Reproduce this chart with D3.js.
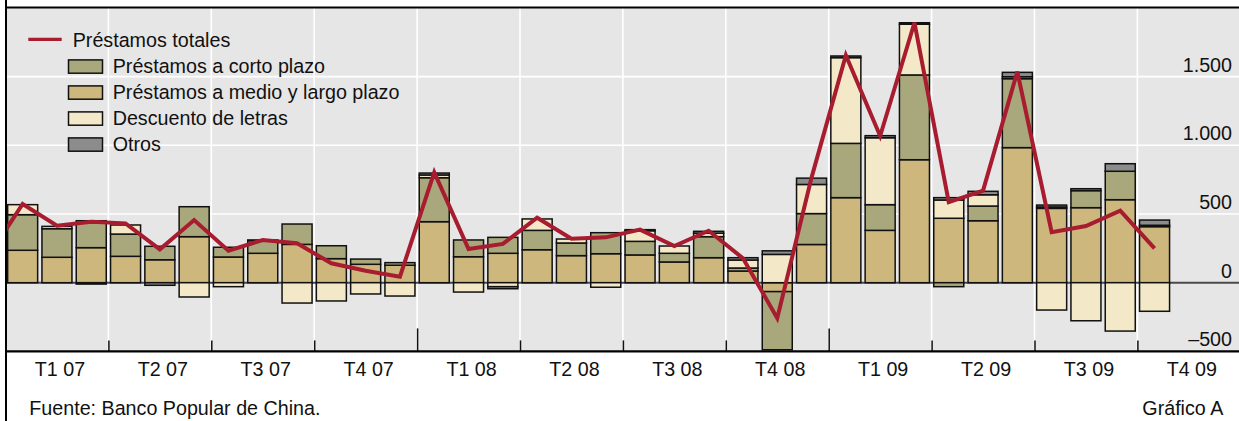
<!DOCTYPE html>
<html><head><meta charset="utf-8">
<script src="https://cdn.jsdelivr.net/npm/d3@7"></script>
<style>
html,body{margin:0;padding:0;background:#fff;}
svg{display:block;}
text{font-family:"Liberation Sans",Arial,Helvetica,sans-serif;font-size:19.7px;fill:#111;}
</style></head><body>
<svg id="chart" width="1239" height="421"></svg>
<script>
// ---- data (miles de millones) ----
const months = ["2007-01","2007-02","2007-03","2007-04","2007-05","2007-06","2007-07","2007-08","2007-09","2007-10","2007-11","2007-12",
  "2008-01","2008-02","2008-03","2008-04","2008-05","2008-06","2008-07","2008-08","2008-09","2008-10","2008-11","2008-12",
  "2009-01","2009-02","2009-03","2009-04","2009-05","2009-06","2009-07","2009-08","2009-09","2009-10","2009-11","2009-12"];
const quarters = ["T1 07","T2 07","T3 07","T4 07","T1 08","T2 08","T3 08","T4 08","T1 09","T2 09","T3 09","T4 09"];
// components Jan 07 - Oct 09
const medio = [236,185,255,192,167,335,187,214,279,175,134,127,
  444,189,214,240,197,211,202,151,182,85,-65,278,
  619,381,895,469,451,983,541,546,604,408];
const corto = [259,208,196,162,98,218,71,92,148,94,38,19,
  320,122,116,141,92,153,99,63,153,22,-423,225,
  395,187,617,-29,107,502,10,124,207,10];
const descuento = [73,17,0,66,0,-104,-29,0,-148,-133,-82,-97,
  20,-68,-29,83,29,-33,77,53,25,58,206,212,
  624,487,369,133,82,14,-199,-277,-352,-208];
const otros = [0,0,-10,0,-19,0,0,5,0,0,0,0,
  14,0,-15,0,0,0,8,0,14,17,26,46,
  12,15,11,17,25,32,14,14,55,38];
// total line: Dec 06 then Jan 07 - Oct 09
const totalPrev = 190;
const totales = [573,415,444,432,243,456,233,311,287,141,87,44,
  803,245,282,473,320,330,386,267,378,178,-258,765,
  1655,1068,1892,587,670,1536,367,413,524,250];
const yTicks = [-500,0,500,1000,1500];
const yGrid = [500,1000,1500];
const seriesKeys = ["medio","corto","descuento","otros"];
const legendLabels = ["Préstamos totales","Préstamos a corto plazo","Préstamos a medio y largo plazo","Descuento de letras","Otros"];
const legendKeys = ["corto","medio","descuento","otros"];
const sourceText = "Fuente: Banco Popular de China.";
const chartId = "Gráfico A";

// ---- styles ----
const colors = {medio:"#cdb77d", corto:"#a8a87c", descuento:"#f3e9c8", otros:"#8c8c8c"};
const lineColor = "#a81c30";
const bg = "#e6e6e6";

// ---- layout ----
const W = 1239, H = 421;
const plot = {left:6, right:1239, top:7.9, bottom:351.4};
const timeRange = [5.5, 1240.3];

const svg = d3.select("#chart");

const x = d3.scaleBand().domain(months).range(timeRange).paddingInner(0.125).paddingOuter(0.0625);
const xq = d3.scaleBand().domain(quarters).range(timeRange);
const xb = d3.scaleLinear().domain([0, months.length]).range(timeRange);
const y = d3.scaleLinear().domain([-500, 2000]).range([plot.bottom, plot.top]);

const locale = d3.formatLocale({decimal:",", thousands:".", grouping:[3], currency:["",""], minus:"\u2013"});
const fmt = locale.format(",d");

// background
svg.append("rect").attr("x",0).attr("y",0).attr("width",W).attr("height",H).attr("fill","#fff");
svg.append("rect").attr("x",plot.left).attr("y",plot.top).attr("width",plot.right-plot.left).attr("height",plot.bottom-plot.top).attr("fill",bg);

svg.append("defs").append("clipPath").attr("id","clip").append("rect")
  .attr("x",plot.left).attr("y",plot.top).attr("width",plot.right-plot.left).attr("height",plot.bottom-plot.top);
const g = svg.append("g").attr("clip-path","url(#clip)");

// grid
g.selectAll(".hgrid").data(yGrid).join("line")
  .attr("x1",plot.left).attr("x2",plot.right).attr("y1",d=>y(d)).attr("y2",d=>y(d))
  .attr("stroke","#fff").attr("stroke-width",1.6);
const qBounds = d3.range(3, months.length, 3);
g.selectAll(".vgrid").data(qBounds).join("line")
  .attr("x1",d=>xb(d)).attr("x2",d=>xb(d)).attr("y1",plot.top).attr("y2",plot.bottom)
  .attr("stroke","#fff").attr("stroke-width",1.6);

// zero line
g.append("line").attr("x1",plot.left).attr("x2",plot.right).attr("y1",y(0)).attr("y2",y(0))
  .attr("stroke","#4a4a4a").attr("stroke-width",2);

// stacked bars
const rows = totales.map((t,i)=>({month:months[i], medio:medio[i], corto:corto[i], descuento:descuento[i], otros:otros[i]}));
const stack = d3.stack().keys(seriesKeys).offset(d3.stackOffsetDiverging);
const stacked = stack(rows);
const layers = g.selectAll(".layer").data(stacked).join("g").attr("fill",d=>colors[d.key]);
layers.selectAll("rect").data(d=>d.filter(s=>s[1]!==s[0])).join("rect")
  .attr("x",d=>x(d.data.month)).attr("width",x.bandwidth())
  .attr("y",d=>y(Math.max(d[0],d[1]))).attr("height",d=>Math.abs(y(d[0])-y(d[1])))
  .attr("stroke","#111").attr("stroke-width",1.5);

// total line (starts with Dec 06, clipped)
const linePts = [{pos: x(months[0]) + x.bandwidth()/2 - x.step(), v: totalPrev}]
  .concat(totales.map((v,i)=>({pos: x(months[i]) + x.bandwidth()/2, v})));
g.append("path").datum(linePts)
  .attr("d", d3.line().x(d=>d.pos).y(d=>y(d.v)))
  .attr("fill","none").attr("stroke",lineColor).attr("stroke-width",4).attr("stroke-linejoin","miter");

// bottom ticks
const tickAxis = d3.axisTop(xb).tickValues(qBounds).tickSize(11).tickFormat("");
const gt = svg.append("g").attr("transform",`translate(0,${plot.bottom})`).call(tickAxis);
gt.select(".domain").remove();
gt.selectAll(".tick line").attr("stroke","#111").attr("stroke-width",1.5)
  .attr("y2", d => d % 12 === 0 ? -23 : -11);

// frame
svg.append("line").attr("x1",5).attr("x2",W).attr("y1",7.5).attr("y2",7.5).attr("stroke","#000").attr("stroke-width",2);
svg.append("line").attr("x1",5).attr("x2",W).attr("y1",plot.bottom).attr("y2",plot.bottom).attr("stroke","#000").attr("stroke-width",2.2);
svg.append("line").attr("x1",6).attr("x2",6).attr("y1",0).attr("y2",H).attr("stroke","#000").attr("stroke-width",2);

// y axis labels
const yAxis = d3.axisRight(y).tickValues(yTicks).tickSize(0).tickPadding(0).tickFormat(fmt);
const gy = svg.append("g").attr("transform","translate(1232,0)").call(yAxis);
gy.select(".domain").remove();
gy.selectAll("text").attr("text-anchor","end").attr("x",0).attr("dy",null).attr("y",-5.5);

// x axis labels
const xAxis = d3.axisBottom(xq).tickSize(0).tickPadding(0);
const gx = svg.append("g").attr("transform","translate(3,375.7)").call(xAxis);
gx.select(".domain").remove();
gx.selectAll("text").attr("y",0).attr("dy",null);

// legend
const lg = svg.append("g");
lg.append("line").attr("x1",28.3).attr("x2",61.7).attr("y1",39.3).attr("y2",39.3)
  .attr("stroke",lineColor).attr("stroke-width",3.3);
lg.append("text").attr("x",72.7).attr("y",46.7).text(legendLabels[0]);
legendKeys.forEach((k,i)=>{
  const by = 72.9 + i*26;
  lg.append("rect").attr("x",68.5).attr("y",by-13).attr("width",34).attr("height",13.3)
    .attr("fill",colors[k]).attr("stroke","#111").attr("stroke-width",1.5);
  lg.append("text").attr("x",112.7).attr("y",by).text(legendLabels[i+1]);
});

// footer
svg.append("text").attr("x",29.3).attr("y",415).text(sourceText);
svg.append("text").attr("x",1223.3).attr("y",415).attr("text-anchor","end").text(chartId);
</script>
</body></html>
